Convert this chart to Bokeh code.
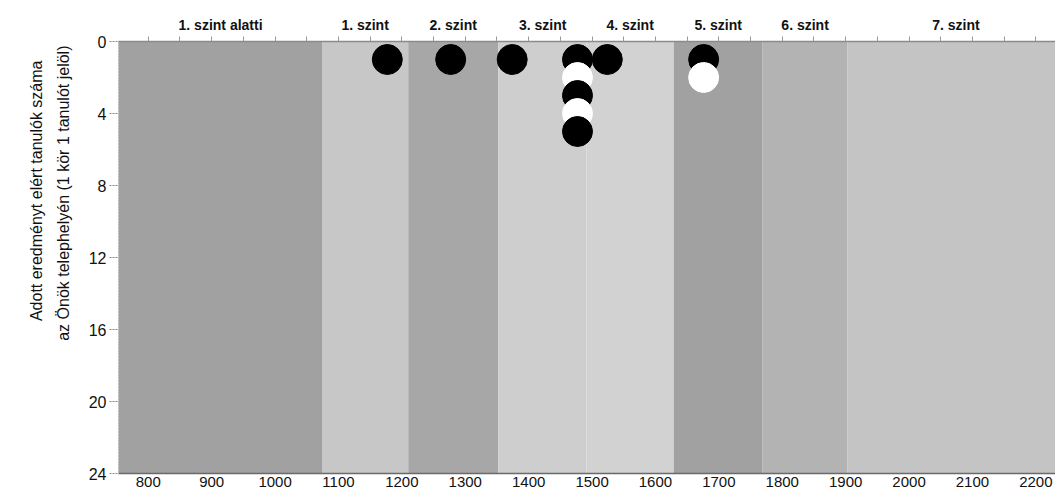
from collections import Counter
from bokeh.plotting import figure
from bokeh.models import (Range1d, LinearAxis, FixedTicker, ColumnDataSource, Title)
from bokeh.embed import file_html
from bokeh.resources import INLINE

# ---- data ----
level_names = ["1. szint alatti", "1. szint", "2. szint", "3. szint",
               "4. szint", "5. szint", "6. szint", "7. szint"]
level_edges = [600, 1074, 1210, 1352, 1491, 1629, 1769, 1903, 2400]
level_colors = ["#a1a1a1", "#c7c7c7", "#a7a7a7", "#cecece",
                "#d2d2d2", "#a1a1a1", "#b3b3b3", "#c4c4c4"]

student_scores = [1177, 1277, 1374, 1477, 1477, 1477, 1477, 1477, 1524, 1676, 1676]
student_type = ["fekete", "fekete", "fekete", "fekete", "fehér", "fekete",
                "fehér", "fekete", "fekete", "fekete", "fehér"]

x_ticks = [800, 900, 1000, 1100, 1200, 1300, 1400, 1500, 1600, 1700,
           1800, 1900, 2000, 2100, 2200]
y_ticks = [0, 4, 8, 12, 16, 20, 24]

y_title_1 = "Adott eredményt elért tanulók száma"
y_title_2 = "az Önök telephelyén (1 kör 1 tanulót jelöl)"

X_START, X_END = 753, 2231

# ---- figure ----
p = figure(width=1055, height=495, x_range=Range1d(X_START, X_END),
           y_range=Range1d(24, 0), output_backend="svg", toolbar_location=None,
           min_border_left=118, min_border_top=41, min_border_bottom=22,
           min_border_right=0, x_axis_location="below", y_axis_location="left")
p.outline_line_color = None
p.xgrid.visible = False
p.ygrid.visible = False
p.background_fill_color = "white"

# level bands
band_src = ColumnDataSource(dict(left=level_edges[:-1], right=level_edges[1:],
                                 color=level_colors))
p.quad(left="left", right="right", bottom=24, top=0, color="color",
       line_color=None, source=band_src)

# stacked student circles (one circle per student)
counter = Counter()
rows = []
for s in student_scores:
    counter[s] += 1
    rows.append(counter[s])
order = sorted(range(len(student_scores)), key=lambda i: rows[i])
fill_map = {"fekete": "#000000", "fehér": "#ffffff"}
dot_src = ColumnDataSource(dict(
    x=[student_scores[i] for i in order],
    y=[rows[i] for i in order],
    c=[fill_map[student_type[i]] for i in order]))
p.scatter(x="x", y="y", size=30, fill_color="c", line_color="c", source=dot_src)

FONT = "Liberation Sans"

# bottom axis
xa = p.xaxis[0]
xa.ticker = FixedTicker(ticks=x_ticks)
xa.major_tick_line_color = None
xa.minor_tick_line_color = None
xa.major_tick_out = 0
xa.major_label_standoff = 3
xa.axis_line_color = "#6a6a6a"
xa.axis_line_width = 1.5
xa.major_label_text_font = FONT
xa.major_label_text_font_size = "15px"
xa.major_label_text_color = "#111111"

# left axis
ya = p.yaxis[0]
ya.ticker = FixedTicker(ticks=y_ticks)
ya.major_tick_out = 9
ya.major_tick_in = 0
ya.major_tick_line_color = "#888888"
ya.major_tick_line_dash = "2 1"
ya.minor_tick_line_color = None
ya.axis_line_color = "#aaaaaa"
ya.axis_line_dash = "1 2"
ya.major_label_standoff = 3
ya.major_label_text_font = FONT
ya.major_label_text_font_size = "16px"
ya.major_label_text_color = "#111111"

# y title: two lines as side titles
for txt, so, off in ((y_title_2, 28, 4), (y_title_1, -12, 19)):
    p.add_layout(Title(text=txt, align="right", offset=off, standoff=so,
                       text_font=FONT, text_font_size="16px",
                       text_font_style="normal", text_color="#111111"), "left")

# top axis with level names
centers = []
for a, b in zip(level_edges[:-1], level_edges[1:]):
    lo, hi = max(a, X_START), min(b, X_END + 14)
    centers.append(int(round((lo + hi) / 2)))
top = LinearAxis(ticker=FixedTicker(ticks=centers,
                                    minor_ticks=list(range(750, 2250, 50))),
                 major_label_overrides={c: n for c, n in zip(centers, level_names)})
top.major_tick_line_color = None
top.major_tick_out = 0
top.minor_tick_out = 5
top.minor_tick_in = 0
top.minor_tick_line_color = "#999999"
top.axis_line_color = "#8a8a8a"
top.axis_line_width = 1.5
top.major_label_standoff = 4
top.major_label_text_font = FONT
top.major_label_text_font_size = "14px"
top.major_label_text_font_style = "bold"
top.major_label_text_color = "#111111"
p.add_layout(top, "above")

open("out.html", "w").write(file_html(p, INLINE))
